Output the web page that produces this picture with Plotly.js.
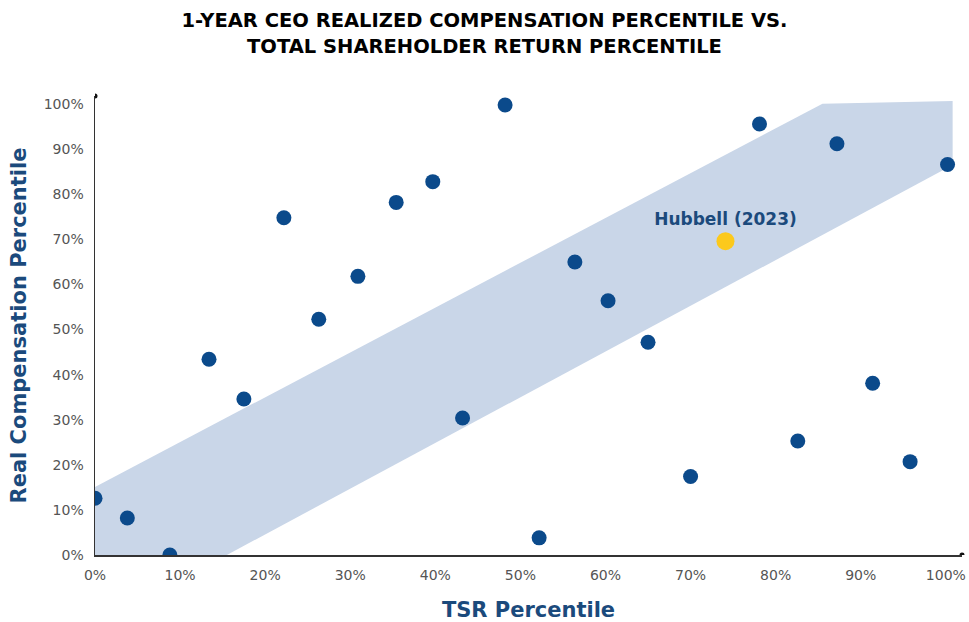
<!DOCTYPE html>
<html>
<head>
<meta charset="utf-8">
<script src="https://cdn.plot.ly/plotly-3.0.1.min.js"></script>
<style>html,body{margin:0;padding:0;background:#fff;}#chart{width:969px;height:622px;}</style>
</head>
<body>
<div id="chart"></div>
<script>
// Peer companies: TSR percentile (x) and realized compensation percentile (y)
var peerTSR  = [0, 3.8, 8.8, 13.4, 17.5, 22.2, 26.3, 30.9, 35.4, 39.7, 48.2, 43.2, 52.2, 56.4, 60.3, 65.0, 78.1, 87.2, 100.2, 70.0, 82.6, 91.4, 95.8];
var peerComp = [12.6, 8.2, 0, 43.4, 34.6, 74.8, 52.3, 61.8, 78.2, 82.8, 99.8, 30.4, 3.8, 65.0, 56.4, 47.2, 95.6, 91.2, 86.6, 17.4, 25.3, 38.1, 20.7];
// Hubbell
var hubbellTSR = [74.1];
var hubbellComp = [69.6];
var hubbellLabel = "Hubbell (2023)";
// Alignment band outline (x, y)
var bandX = [0, 0, 85.5, 100.8, 100.8, 15.5, 0];
var bandY = [0, 15.1, 100.1, 100.7, 86.5, 0, 0];
// Tick values / labels
var tickVals = [0,10,20,30,40,50,60,70,80,90,100];
var tickText = tickVals.map(function(v){return v + "%";});

var traces = [
  {x: bandX, y: bandY, type: 'scatter', mode: 'lines', fill: 'toself',
   fillcolor: '#c9d6e8', line: {width: 0}, hoverinfo: 'skip', showlegend: false},
  {x: peerTSR, y: peerComp, type: 'scatter', mode: 'markers',
   marker: {size: 15, color: '#0b4a8b'}, showlegend: false},
  {x: hubbellTSR, y: hubbellComp, type: 'scatter', mode: 'markers+text',
   marker: {size: 18, color: '#fcc91c'}, text: [hubbellLabel], textposition: 'top center',
   textfont: {family: 'DejaVu Sans, sans-serif', size: 17, color: '#1b4a7c', weight: 'bold'},
   showlegend: false}
];

var axisCommon = {
  tickvals: tickVals, ticktext: tickText,
  showgrid: false, zeroline: false,
  showline: true, linecolor: '#333', linewidth: 1.5,
  ticks: 'outside', ticklen: 7, tickcolor: 'rgba(0,0,0,0)',
  tickfont: {family: 'DejaVu Sans, sans-serif', size: 14, color: '#555'},
  fixedrange: true
};

var layout = {
  width: 969, height: 622,
  margin: {l: 95, r: 7, t: 96, b: 67},
  paper_bgcolor: '#fff', plot_bgcolor: '#fff',
  title: {text: '1-YEAR CEO REALIZED COMPENSATION PERCENTILE VS.<br>TOTAL SHAREHOLDER RETURN PERCENTILE',
          font: {family: 'DejaVu Sans, sans-serif', size: 19.5, color: '#000', weight: 'bold'},
          x: 0.5, xanchor: 'center', yref: 'container', y: 0.956, yanchor: 'middle'},
  xaxis: Object.assign({}, axisCommon, {range: [0, 101.9],
    title: {text: 'TSR Percentile', standoff: 25,
            font: {family: 'DejaVu Sans, sans-serif', size: 21, color: '#1b4a7c', weight: 'bold'}}}),
  yaxis: Object.assign({}, axisCommon, {range: [0, 101.8],
    title: {text: 'Real Compensation Percentile', standoff: 11,
            font: {family: 'DejaVu Sans, sans-serif', size: 21, color: '#1b4a7c', weight: 'bold'}}}),
  shapes: [
    {type: 'circle', xref: 'x', yref: 'paper', xsizemode: 'pixel', ysizemode: 'pixel',
     xanchor: 0, yanchor: 1, x0: -2.5, x1: 2.5, y0: -2.5, y1: 2.5, fillcolor: '#111', line: {width: 0}},
    {type: 'circle', xref: 'paper', yref: 'y', xsizemode: 'pixel', ysizemode: 'pixel',
     xanchor: 1, yanchor: 0, x0: -2.5, x1: 2.5, y0: -2.5, y1: 2.5, fillcolor: '#111', line: {width: 0}}
  ]
};

Plotly.newPlot('chart', traces, layout, {displayModeBar: false, staticPlot: true});
</script>
</body>
</html>
